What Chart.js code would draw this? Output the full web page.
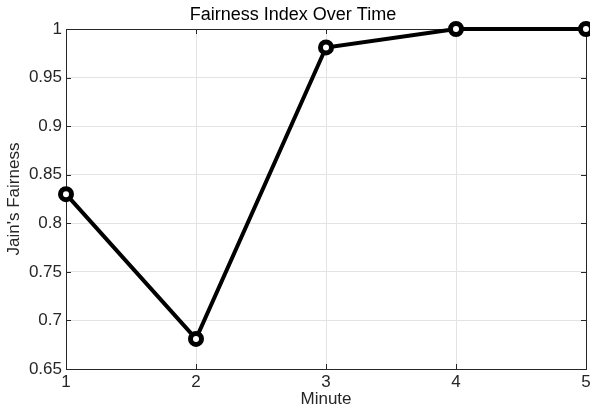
<!DOCTYPE html>
<html>
<head>
<meta charset="utf-8">
<script src="https://cdn.jsdelivr.net/npm/chart.js@4"></script>
<style>
  html, body { margin: 0; padding: 0; background: #fff; }
  #wrap { width: 590px; height: 414px; position: relative; }
</style>
</head>
<body>
<div id="wrap"><canvas id="c"></canvas></div>
<script>
const minutes = [1, 2, 3, 4, 5];
const fairness = [0.83, 0.681, 0.981, 1.0, 1.0];
const yTicks = [0.65, 0.7, 0.75, 0.8, 0.85, 0.9, 0.95, 1];

const axisColor = "#262626";
const font = "'Liberation Sans', Arial, Helvetica, sans-serif";

// matlab style box with inward ticks
const boxPlugin = {
  id: "box",
  beforeDatasetsDraw(chart) {
    const { ctx, chartArea: a, scales } = chart;
    ctx.save();
    ctx.strokeStyle = axisColor;
    ctx.lineWidth = 1;
    ctx.strokeRect(a.left + 0.5, a.top + 0.5, a.right - a.left, a.bottom - a.top);
    const len = 5;
    ctx.beginPath();
    minutes.forEach((m) => {
      const x = Math.round(scales.x.getPixelForValue(m)) + 0.5;
      ctx.moveTo(x, a.bottom); ctx.lineTo(x, a.bottom - len);
      ctx.moveTo(x, a.top); ctx.lineTo(x, a.top + len);
    });
    yTicks.forEach((v) => {
      const y = Math.round(scales.y.getPixelForValue(v)) + 0.5;
      ctx.moveTo(a.left, y); ctx.lineTo(a.left + len, y);
      ctx.moveTo(a.right, y); ctx.lineTo(a.right - len, y);
    });
    ctx.stroke();
    ctx.restore();
  },
};

new Chart(document.getElementById("c"), {
  type: "line",
  data: {
    datasets: [
      {
        data: minutes.map((m, i) => ({ x: m, y: fairness[i] })),
        borderColor: "#000",
        borderWidth: 4,
        pointRadius: 5.5,
        pointBorderWidth: 5,
        pointBackgroundColor: "#fff",
        pointBorderColor: "#000",
        clip: false,
        tension: 0,
      },
    ],
  },
  plugins: [boxPlugin],
  options: {
    responsive: true,
    maintainAspectRatio: false,
    animation: false,
    layout: { autoPadding: false, padding: { top: 0, right: 4, bottom: 0, left: 0 } },
    plugins: {
      legend: { display: false },
      tooltip: { enabled: false },
      title: {
        display: true,
        text: "Fairness Index Over Time",
        color: "#000",
        font: { family: font, size: 18, weight: "normal" },
        padding: { top: 4, bottom: 3.4 },
      },
    },
    scales: {
      x: {
        type: "linear",
        min: 1,
        max: 5,
        afterFit: (s) => {
          s.height = 45;
          s.paddingLeft = 0;
          s.paddingRight = 0;
        },
        ticks: {
          stepSize: 1,
          color: axisColor,
          padding: 3,
          font: { family: font, size: 17 },
        },
        grid: { color: "#e3e3e3", drawTicks: false },
        border: { display: false },
        title: {
          display: true,
          text: "Minute",
          color: axisColor,
          font: { family: font, size: 17 },
          padding: { top: 4, bottom: 4 },
        },
      },
      y: {
        min: 0.65,
        max: 1,
        afterFit: (s) => { s.width = 66; },
        afterBuildTicks: (s) => { s.ticks = yTicks.map((v) => ({ value: v })); },
        ticks: {
          color: axisColor,
          padding: 4,
          font: { family: font, size: 17 },
          callback: (v) => String(+v.toFixed(2)),
        },
        grid: { color: "#e3e3e3", drawTicks: false },
        border: { display: false },
        title: {
          display: true,
          text: "Jain's Fairness",
          color: axisColor,
          font: { family: font, size: 17 },
          padding: { top: 4, bottom: 4 },
        },
      },
    },
  },
});
</script>
</body>
</html>
